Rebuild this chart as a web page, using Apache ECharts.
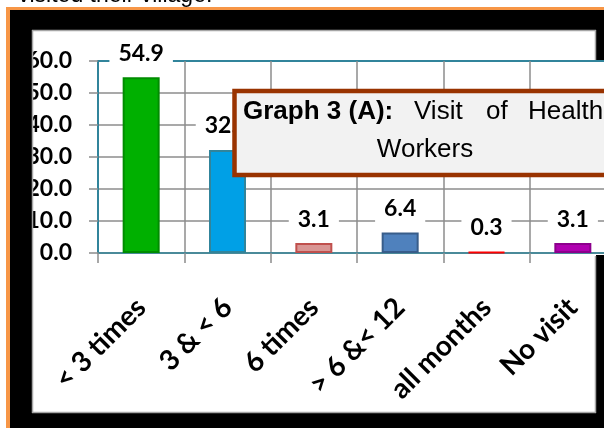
<!DOCTYPE html>
<html>
<head>
<meta charset="utf-8">
<script src="https://cdn.jsdelivr.net/npm/echarts@6.0.0/dist/echarts.min.js"></script>
<style>
  html, body { margin: 0; padding: 0; background: #ffffff; }
  #chart { width: 604px; height: 428px; }
</style>
</head>
<body>
<div id="chart"></div>
<script>
// Frequency of health worker visits (% of respondents)
const categories = ['< 3 times', '3 & < 6', '6 times', '> 6 &< 12', 'all months', 'No visit'];
const percentages = [54.9, 32.2, 3.1, 6.4, 0.3, 3.1];
const barFills = ['#00b000', '#00a0e6', '#d99694', '#4f81bd', '#ff0000', '#b000b0'];
const barEdges = ['#008c00', '#31849b', '#c0504d', '#385d8a', '#ff0000', '#8c008c'];
const yMin = 0, yMax = 60, yStep = 10;
const titleBold = 'Graph 3 (A):';
const titleWords = ['Visit', 'of', 'Health'];
const titleLine2 = 'Workers';
const captionAbove = 'visited their village.';

const chart = echarts.init(document.getElementById('chart'), null, { renderer: 'canvas' });

const LABEL_FONT = 'Lato, "Open Sans", sans-serif';
const TEAL = '#31849b';
const GRIDGREY = '#8c8c8c';

// frame pieces: orange rim, black surround, grey panel edge
const frame = [];
function rect(x, y, w, h, fill, z) {
  frame.push({ type: 'rect', z: z, silent: true, shape: { x: x, y: y, width: w, height: h }, style: { fill: fill } });
}
function seg(x1, y1, x2, y2, z) {
  frame.push({ type: 'line', z: z, silent: true, shape: { x1: x1, y1: y1, x2: x2, y2: y2 }, style: { stroke: '#a6a6a6', lineWidth: 1.5 } });
}
rect(6, 7, 610, 3.5, '#f79646', 100);
rect(6, 7, 4.5, 430, '#f79646', 100);
rect(10, 10, 600, 20, '#000000', 100);
rect(10, 10, 22, 430, '#000000', 100);
rect(10, 413, 600, 20, '#000000', 100);
rect(596, 10, 12, 50, '#000000', 100);
rect(596, 255, 12, 180, '#000000', 100);
seg(32, 30.5, 596, 30.5, 101);
seg(32.5, 30, 32.5, 413, 101);
seg(32, 412.5, 596, 412.5, 101);
seg(595.5, 30, 595.5, 60, 101);
seg(595.5, 256, 595.5, 413, 101);

// text placed by its vertical middle
function textAt(x, yMid, str, font, align, z) {
  return { type: 'text', z: z, silent: true,
    style: { x: x, y: yMid, text: str, fill: '#000', font: font, align: align || 'left', verticalAlign: 'middle' } };
}

// caption line running off the top edge
frame.push(textAt(18, -4, captionAbove, '23px "Liberation Sans", Arial, sans-serif', 'left', 100));

// title box
const titleFont = '26px "Liberation Sans", Arial, sans-serif';
const titleEls = [
  { type: 'rect', z: 110, silent: true, shape: { x: 234.5, y: 91, width: 384, height: 84 }, style: { fill: '#f2f2f2', stroke: '#993300', lineWidth: 4.5 } },
  textAt(243, 112, titleBold, 'bold ' + titleFont, 'left', 111),
  textAt(414, 112, titleWords[0], titleFont, 'left', 111),
  textAt(486, 112, titleWords[1], titleFont, 'left', 111),
  textAt(528, 112, titleWords[2], titleFont, 'left', 111),
  textAt(425, 150, titleLine2, titleFont, 'center', 111)
];

const option = {
  backgroundColor: '#ffffff',
  animation: false,
  grid: {
    left: 98, top: 61, width: 518, height: 192,
    outerBoundsMode: 'none',
    show: true, backgroundColor: '#ffffff', borderColor: TEAL, borderWidth: 2
  },
  xAxis: {
    type: 'category',
    data: categories,
    axisLine: { show: true, lineStyle: { color: '#4a8a99', width: 2 } },
    axisTick: { show: true, length: 10, lineStyle: { color: GRIDGREY, width: 1.5 } },
    splitLine: { show: true, showMinLine: false, lineStyle: { color: GRIDGREY, width: 1.5 } },
    axisLabel: {
      interval: 0, rotate: 45, margin: 50,
      color: '#000', fontFamily: LABEL_FONT, fontWeight: 'bold', fontSize: 28
    }
  },
  yAxis: {
    type: 'value',
    min: yMin, max: yMax, interval: yStep,
    axisLine: { show: true, lineStyle: { color: TEAL, width: 2 } },
    axisTick: { show: true, length: 9, lineStyle: { color: GRIDGREY, width: 1.5 } },
    splitLine: { show: true, showMaxLine: false, lineStyle: { color: GRIDGREY, width: 1.5 } },
    axisLabel: {
      margin: 26, color: '#000', fontFamily: LABEL_FONT, fontWeight: 'bold', fontSize: 23,
      formatter: function (v) { return v.toFixed(1); }
    }
  },
  series: [{
    type: 'bar',
    barWidth: 37,
    data: percentages.map(function (v, i) {
      return { value: v, itemStyle: { color: barFills[i], borderColor: barEdges[i], borderWidth: 2 } };
    }),
    label: {
      show: true, position: 'top', distance: 8,
      color: '#000', fontFamily: LABEL_FONT, fontWeight: 'bold', fontSize: 23, lineHeight: 24,
      backgroundColor: '#ffffff', padding: [4, 9],
      formatter: function (p) { return p.value.toFixed(1); }
    }
  }],
  graphic: { elements: frame.concat(titleEls) }
};

chart.setOption(option);
</script>
</body>
</html>
